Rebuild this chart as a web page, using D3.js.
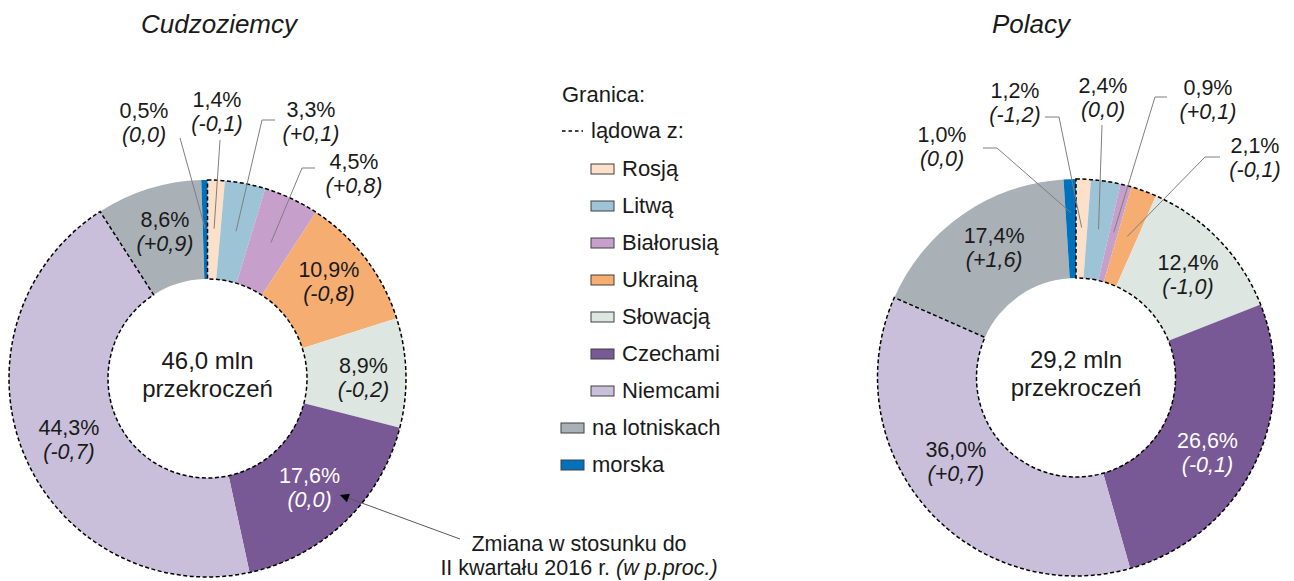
<!DOCTYPE html>
<html lang="pl">
  <head>
    <meta charset="utf-8">
    <title>Przekroczenia granicy</title>
    <script src="https://cdn.jsdelivr.net/npm/d3@7"></script>
    <style type="text/css">
      body { margin: 0; background: #fff; }
      svg text { font-family: "Liberation Sans", Arial, sans-serif; fill: #1a1a1a; }
      .title { font-size: 26px; font-style: italic; }
      .lbl { font-size: 21.5px; }
      .chg { font-style: italic; }
      .center { font-size: 24px; }
      .legend text { font-size: 22px; }
      .note { font-size: 21.5px; }
      .leader { fill: none; stroke: #7f7f7f; stroke-width: 1; }
      .land { fill: none; stroke: #000; stroke-width: 1.5; stroke-dasharray: 4,2.5; }
    </style>
  </head>
  <body>
    <svg width="1294" height="581"></svg>
    <script type="text/javascript">
      // --- data ---
      var categories = ["Rosją", "Litwą", "Białorusią", "Ukrainą", "Słowacją", "Czechami", "Niemcami", "na lotniskach", "morska"];
      var landCount = 7;   // first seven are land borders
      var colors = ["#fce0ca", "#9dc3d6", "#c79fcb", "#f5ad72", "#dde6e0", "#785895", "#c9bfda", "#a9b0b6", "#0071bc"];

      var titles = ["Cudzoziemcy", "Polacy"];
      var totals = [46.0, 29.2];
      var foreignShare  = [1.4, 3.3, 4.5, 10.9, 8.9, 17.6, 44.3, 8.6, 0.5];
      var foreignChange = [-0.1, 0.1, 0.8, -0.8, -0.2, 0.0, -0.7, 0.9, 0.0];
      var polesShare    = [1.2, 2.4, 0.9, 2.1, 12.4, 26.6, 36.0, 17.4, 1.0];
      var polesChange   = [-1.2, 0.0, 0.1, -0.1, -1.0, -0.1, 0.7, 1.6, 0.0];

      // --- layout ---
      var outerR = 198.5, innerR = 99.5, labelR = 150;
      var charts = [
        { title: titles[0], total: totals[0], share: foreignShare, change: foreignChange,
          cx: 207.5, cy: 378.5, titleX: 219,
          inside: { 3: [2, -7], 4: [6, 3], 5: [-2, 0], 6: [0, 3], 7: [2, -4] },
          callouts: [
            { i: 8, tx: 144, ty: 118, from: [180, 138] },
            { i: 0, tx: 217, ty: 107, from: [220, 140] },
            { i: 1, tx: 311, ty: 117, from: [275, 120], elbow: [262, 120] },
            { i: 2, tx: 354, ty: 169, from: [315, 168], elbow: [302, 168] }
          ] },
        { title: titles[1], total: totals[1], share: polesShare, change: polesChange,
          cx: 1076, cy: 377.5, titleX: 1031,
          inside: { 4: [4, 1], 5: [-3, 8], 6: [-7, -15], 7: [4, -8] },
          callouts: [
            { i: 8, tx: 942, ty: 142, from: [983, 148], elbow: [997, 148], r: 165 },
            { i: 0, tx: 1015, ty: 98, from: [1045, 117], elbow: [1059, 117] },
            { i: 1, tx: 1103, ty: 93, from: [1102, 125] },
            { i: 2, tx: 1208, ty: 95, from: [1167, 97], elbow: [1155, 97] },
            { i: 3, tx: 1255, ty: 153, from: [1220, 157], elbow: [1205, 157] }
          ] }
      ];

      var fmtPct = function(v) { return v.toFixed(1).replace(".", ",") + "%"; };
      var fmtChg = function(v) {
        var s = Math.abs(v).toFixed(1).replace(".", ",");
        return "(" + (v > 0 ? "+" : v < 0 ? "-" : "") + s + ")";
      };

      var svg = d3.select("svg");

      var pie = d3.pie().sort(null).value(function(d) { return d; });
      var arc = d3.arc().innerRadius(innerR).outerRadius(outerR);
      var labelArc = d3.arc().innerRadius(labelR).outerRadius(labelR);

      function twoLines(g, x, y, d, change, color) {
        var t = g.append("text").attr("class", "lbl").attr("text-anchor", "middle")
          .style("fill", color);
        t.append("tspan").attr("x", x).attr("y", y).text(fmtPct(d));
        t.append("tspan").attr("class", "chg").attr("x", x).attr("y", y + 24).text(fmtChg(change));
      }

      charts.forEach(function(c) {
        svg.append("text").attr("class", "title")
          .attr("x", c.titleX).attr("y", 33)
          .attr("text-anchor", "middle")
          .text(c.title);

        var g = svg.append("g").attr("transform", "translate(" + c.cx + "," + c.cy + ")");
        var arcs = pie(c.share);

        g.selectAll("path.slice")
          .data(arcs)
          .enter().append("path")
          .attr("class", "slice")
          .attr("d", arc)
          .attr("fill", function(d, i) { return colors[i]; });

        // dashed outline round the land border part
        g.append("path")
          .attr("class", "land")
          .attr("d", arc({ startAngle: 0, endAngle: arcs[landCount - 1].endAngle }));

        // labels inside the ring
        arcs.forEach(function(a, i) {
          if (!(i in c.inside)) return;
          var p = labelArc.centroid(a);
          var n = c.inside[i];
          twoLines(g, p[0] + n[0], p[1] - 4 + n[1], c.share[i], c.change[i], i === 5 ? "#fff" : "#1a1a1a");
        });

        // callout labels with leader lines
        c.callouts.forEach(function(o) {
          var a = arcs[o.i];
          var r = o.r || labelR;
          var mid = (a.startAngle + a.endAngle) / 2;
          var end = [c.cx + r * Math.sin(mid), c.cy - r * Math.cos(mid)];
          var pts = [o.from];
          if (o.elbow) pts.push(o.elbow);
          pts.push(end);
          svg.append("path").attr("class", "leader").attr("d", d3.line()(pts));
          twoLines(svg, o.tx, o.ty, c.share[o.i], c.change[o.i], "#1a1a1a");
        });

        var ct = g.append("text").attr("class", "center").attr("text-anchor", "middle");
        ct.append("tspan").attr("x", 0).attr("y", -10).text(c.total.toFixed(1).replace(".", ",") + " mln");
        ct.append("tspan").attr("x", 0).attr("y", 18).text("przekroczeń");
      });

      // legend
      var lg = svg.append("g").attr("class", "legend");
      lg.append("text").attr("x", 562).attr("y", 102).text("Granica:");
      lg.append("line").attr("x1", 562).attr("x2", 583).attr("y1", 131).attr("y2", 131)
        .attr("stroke", "#000").attr("stroke-width", 1.5).attr("stroke-dasharray", "3.5,3");
      lg.append("text").attr("x", 591).attr("y", 138).text("lądowa z:");

      var item = lg.selectAll("g.item")
        .data(categories)
        .enter().append("g")
        .attr("class", "item")
        .attr("transform", function(d, i) {
          return "translate(" + (i < landCount ? 591 : 561) + "," + (164 + i * 37) + ")";
        });
      item.append("rect")
        .attr("width", 23).attr("height", 10)
        .attr("fill", function(d, i) { return colors[i]; })
        .attr("stroke", "#404040").attr("stroke-width", 1);
      item.append("text").attr("x", 31).attr("y", 12).text(function(d) { return d; });

      // note with arrow
      var defs = svg.append("defs");
      defs.append("marker").attr("id", "arrow")
        .attr("viewBox", "0 0 10 10").attr("refX", 10).attr("refY", 5)
        .attr("markerWidth", 12).attr("markerHeight", 9)
        .attr("markerUnits", "userSpaceOnUse")
        .attr("orient", "auto")
        .append("path").attr("d", "M0,0L10,5L0,10Z").attr("fill", "#000");
      svg.append("line")
        .attr("x1", 460).attr("y1", 539).attr("x2", 340).attr("y2", 495)
        .attr("stroke", "#595959").attr("stroke-width", 1)
        .attr("marker-end", "url(#arrow)");
      var note = svg.append("text").attr("class", "note").attr("text-anchor", "middle");
      note.append("tspan").attr("x", 579).attr("y", 551).text("Zmiana w stosunku do");
      var l2 = note.append("tspan").attr("x", 579).attr("y", 575);
      l2.append("tspan").text("II kwartału 2016 r. ");
      l2.append("tspan").attr("font-style", "italic").text("(w p.proc.)");
    </script>
  </body>
</html>
